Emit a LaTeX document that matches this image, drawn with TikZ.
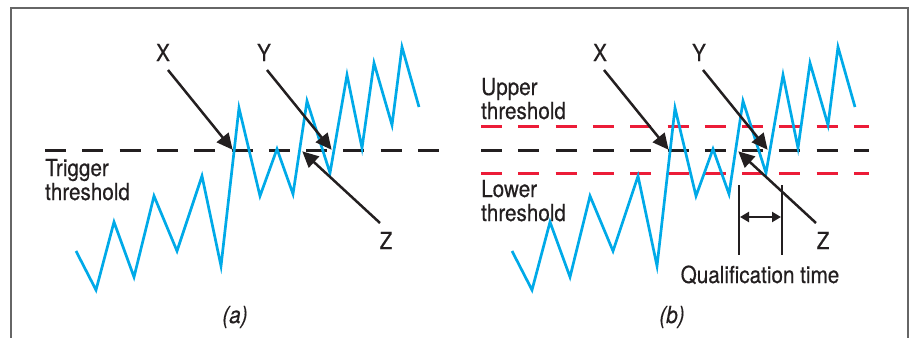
\documentclass[tikz,border=0pt]{standalone}
\usepackage{fontspec}
\setmainfont{TeX Gyre Heros}[FakeStretch=0.88, FakeBold=0.4]
\usetikzlibrary{arrows.meta}
\definecolor{sigblue}{RGB}{0,170,232}
\definecolor{thred}{RGB}{236,28,56}
\definecolor{ink}{RGB}{35,31,32}
\begin{document}
\begin{tikzpicture}[>={Triangle[length=16pt,width=15pt]}, x=1pt, y=-1pt,
  font=\fontsize{23.5}{24}\selectfont, text=ink,
  signal/.style={draw=sigblue, line width=2.7pt, line join=miter},
  thresh/.style={line width=3pt, dash pattern=on 21pt off 16.3pt},
  pointer/.style={->, draw=ink, line width=2.5pt, shorten >=-1pt}]
\useasboundingbox (0,0) rectangle (909,337);
\draw[gray!80!black, line width=1.4pt] (11,345) -- (11,8) -- (908,8) -- (908,345);
% (a) single trigger level
\draw[thresh, ink] (45,150) -- (439,150);
\draw[signal] (76,251) -- (96,290) -- (114,222) -- (134,277) -- (154,196) -- (177,251)
  -- (202,176) -- (221,266) -- (239,108) -- (260,196) -- (277,149) -- (293,194)
  -- (307,101) -- (330,173) -- (347,75) -- (362,148) -- (374,63) -- (392,125)
  -- (402,47) -- (419,107);
\node[anchor=base west, align=left, inner sep=0] (trig) at (45,200) {Trigger\\threshold};
\node[anchor=base, inner sep=0] (Xa) at (163,61) {X};
\node[anchor=base, inner sep=0] (Ya) at (264,61) {Y};
\node[anchor=base, inner sep=0] (Za) at (386,249) {Z};
\coordinate (xta) at (168,70);  \coordinate (xha) at (232,149);
\coordinate (yta) at (267,70);  \coordinate (yha) at (331,149);
\coordinate (zta) at (380,223); \coordinate (zha) at (303,152);
\draw[pointer] (xta) -- (xha);
\draw[pointer] (yta) -- (yha);
\draw[pointer] (zta) -- (zha);
\node[font=\fontsize{23.5}{24}\selectfont\itshape] (capa) at (235,317) {(a)};
% (b) upper and lower levels
\draw[thresh, thred] (481,126) -- (869,126);
\draw[thresh, ink]   (481,150) -- (869,150);
\draw[thresh, thred] (481,173) -- (869,173);
\draw[signal, xshift=436pt] (76,251) -- (96,290) -- (114,222) -- (134,277) -- (154,196) -- (177,251)
  -- (202,176) -- (221,266) -- (239,108) -- (260,196) -- (277,149) -- (293,194)
  -- (307,101) -- (330,173) -- (347,75) -- (362,148) -- (374,63) -- (392,125)
  -- (402,47) -- (419,107);
\node[anchor=base west, align=left, inner sep=0] (upper) at (481,119) {Upper\\threshold};
\node[anchor=base west, align=left, inner sep=0] (lower) at (481,221) {Lower\\threshold};
\node[anchor=base, inner sep=0] (Xb) at (600,61) {X};
\node[anchor=base, inner sep=0] (Yb) at (699,61) {Y};
\node[anchor=base, inner sep=0] (Zb) at (823,249) {Z};
\coordinate (xtb) at (604,70);  \coordinate (xhb) at (668,149);
\coordinate (ytb) at (703,70);  \coordinate (yhb) at (767,149);
\coordinate (ztb) at (816,223); \coordinate (zhb) at (739,152);
\draw[pointer] (xtb) -- (xhb);
\draw[pointer] (ytb) -- (yhb);
\draw[pointer] (ztb) -- (zhb);
\coordinate (qla) at (739,185); \coordinate (qlb) at (739,255);
\coordinate (qra) at (782,185); \coordinate (qrb) at (782,255);
\draw[ink, line width=2.2pt] (qla) -- (qlb);
\draw[ink, line width=2.2pt] (qra) -- (qrb);
\draw[ink, line width=2.2pt, {Triangle[length=9pt,width=10pt]}-{Triangle[length=9pt,width=10pt]}]
  (740,217) -- (781,217);
\node[anchor=base, inner sep=0] (qual) at (760,283) {Qualification time};
\node[font=\fontsize{23.5}{24}\selectfont\itshape] (capb) at (672,317) {(b)};
\end{tikzpicture}
\end{document}
